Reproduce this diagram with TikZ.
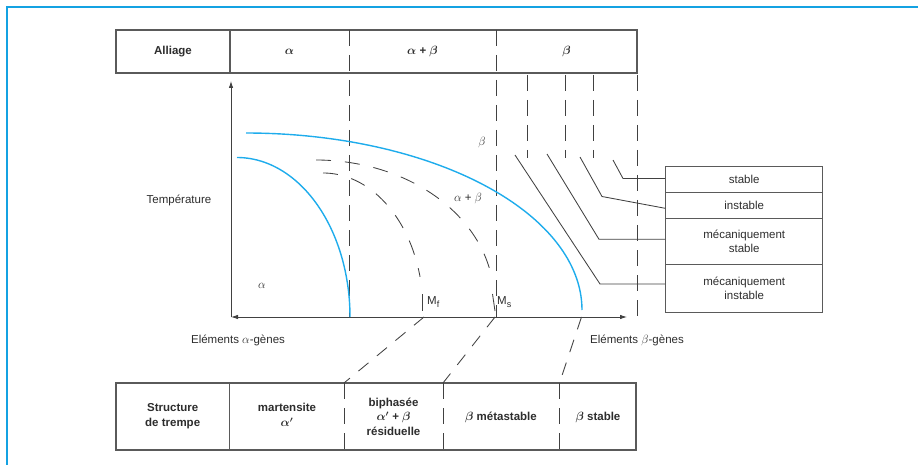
\documentclass[tikz,border=0pt]{standalone}
\usepackage{fontspec}
\setmainfont{Liberation Sans}
\usetikzlibrary{arrows.meta,calc}
\definecolor{tblue}{RGB}{30,172,236}
\definecolor{frameblue}{RGB}{20,162,226}
\definecolor{lgray}{RGB}{65,65,65}
\definecolor{bgray}{RGB}{90,90,90}
\definecolor{tgray}{RGB}{45,45,45}
\begin{document}
\begin{tikzpicture}[x=1pt,y=-1pt,
  font=\fontsize{11.5}{13.5}\selectfont,
  tline/.style={draw=lgray, line width=0.85pt},
  dline/.style={draw=lgray, line width=0.85pt, dash pattern=on 16pt off 9pt},
  cdash/.style={draw=lgray, line width=0.85pt, dash pattern=on 15pt off 14pt},
  bluec/.style={draw=tblue, line width=1.4pt},
  tbl/.style={draw=bgray, line width=1.1pt},
  lab/.style={text=tgray, inner sep=0pt},
  cell/.style={text=tgray, inner sep=0pt, align=center, font=\fontsize{11.5}{14.5}\selectfont\bfseries\boldmath},
  rowbox/.style={draw=bgray, line width=1pt, text=tgray, align=center, inner sep=0pt, minimum width=157pt},
  axarrow/.style={-{Latex[length=7pt,width=4.5pt]}, draw=lgray, line width=0.85pt}
]
\useasboundingbox (0,0) rectangle (918,465);
% frame
\draw[frameblue, line width=1.5pt] (7,465) -- (7,7) -- (918,7);

% ---------- top table
\draw[tbl] (116,30) rectangle (637,73);
\draw[tbl] (230,30) -- (230,73);
\node[cell] (alliage) at (173,52) {Alliage};
\node[cell] (talpha) at (289.5,52) {$\alpha$};
\node[cell] (talphabeta) at (422.5,52) {$\alpha$ + $\beta$};
\node[cell] (tbeta) at (566.5,52) {$\beta$};

% long dashed verticals
\draw[dline] (349,30) -- (349,317);
\draw[dline] (496,30) -- (496,317);
\draw[dline] (527,75) -- (527,158);
\draw[dline] (565,75) -- (565,158);
\draw[dline] (593,75) -- (593,158);
\draw[dline] (637,75) -- (637,324);

% ---------- axes
\coordinate (O) at (231,317);
\coordinate (ytop) at (231,81);
\coordinate (xl) at (231,317);
\coordinate (xr) at (627,317);
\draw[axarrow] (O) -- (ytop);
\draw[axarrow, {Latex[length=7pt,width=4.5pt]}-{Latex[length=7pt,width=4.5pt]}] (xl) -- (xr);

% ---------- blue curves
\draw[bluec] plot[domain=90:0, samples=80] ({246+336*cos(\x)}, {310-177*sin(\x)});
\draw[bluec] plot[domain=90:0, samples=80] ({237+113*cos(\x)}, {317-159.5*sin(\x)});

% ---------- dashed Ms / Mf curves
\draw[cdash] plot[domain=90:8, samples=80] ({316+178*cos(\x)}, {300-140*sin(\x)});
\draw[cdash] plot[domain=90:14, samples=80] ({323+100*cos(\x)}, {310-137*sin(\x)});

% ticks Mf, Ms
\coordinate (mf1) at (422.5,294);
\coordinate (mf2) at (422.5,311);
\coordinate (ms1) at (492.5,294);
\coordinate (ms2) at (495,311);
\draw[tline] (mf1) -- (mf2);
\draw[tline] (ms1) -- (ms2);
\node[lab, anchor=west] (mf) at (427,302) {M\raisebox{-0.45ex}{\fontsize{9}{9}\selectfont f}};
\node[lab, anchor=west] (ms) at (497,302) {M\raisebox{-0.45ex}{\fontsize{9}{9}\selectfont s}};

% region labels
\node[lab] (lbeta) at (482,143) {$\beta$};
\node[lab] (lab2) at (468,198) {$\alpha$ + $\beta$};
\node[lab] (lalpha) at (262,286) {$\alpha$};

% axis labels
\node[lab] (temp) at (179,200) {Température};
\node[lab] (ealpha) at (238,340) {Eléments $\alpha$-gènes};
\node[lab] (ebeta) at (637,340) {Eléments $\beta$-gènes};

% ---------- right box
\node[rowbox, minimum height=26pt] (stable) at (744.2,179.7) {stable};
\node[rowbox, minimum height=25.6pt] (instable) at (744.2,205.5) {instable};
\node[rowbox, minimum height=45.7pt] (mstable) at (744.2,241.15) {mécaniquement\\stable};
\node[rowbox, minimum height=48.3pt] (minstable) at (744.2,288.15) {mécaniquement\\instable};

% leaders
\coordinate (a1) at (613,160);
\coordinate (b1) at (623,178.5);
\coordinate (a2) at (580,157);
\coordinate (b2) at (602,196.5);
\coordinate (a3) at (547,154);
\coordinate (b3) at (599,239.3);
\coordinate (a4) at (515,155);
\coordinate (b4) at (600,284);
\draw[tline] (a1) -- (b1) -- (b1 -| stable.west);
\draw[tline] (a2) -- (b2) -- ($(instable.west)+(0,2.8)$);
\draw[tline] (a3) -- (b3) -- (b3 -| mstable.west);
\draw[tline] (a4) -- (b4) -- (b4 -| minstable.west);

% ---------- bottom table
\draw[tbl] (116,383) rectangle (636,450);
\draw[tbl] (229.5,383) -- (229.5,450);
\draw[dline] (344,383) -- (344,450);
\draw[dline] (443,383) -- (443,450);
\draw[dline] (559.5,383) -- (559.5,450);
\node[cell] (structure) at (172.7,416) {Structure\\de trempe};
\node[cell] (marten) at (287,415) {martensite\\$\alpha'$};
\node[cell] (biph) at (393.5,416.5) {biphasée\\$\alpha'$ + $\beta$\\résiduelle};
\node[cell] (meta) at (501,417) {$\beta$ métastable};
\node[cell] (bst) at (598,417) {$\beta$ stable};

% diagonal dashed connectors
\coordinate (d1a) at (424,317);
\coordinate (d1b) at (344,383);
\coordinate (d2a) at (495,317);
\coordinate (d2b) at (443,383);
\coordinate (d3a) at (581.5,317);
\coordinate (d3b) at (559.5,383);
\draw[cdash, dash pattern=on 13pt off 11pt] (d1a) -- (d1b);
\draw[cdash, dash pattern=on 13pt off 11pt] (d2a) -- (d2b);
\draw[cdash, dash pattern=on 13pt off 11pt] (d3a) -- (d3b);
\end{tikzpicture}
\end{document}
